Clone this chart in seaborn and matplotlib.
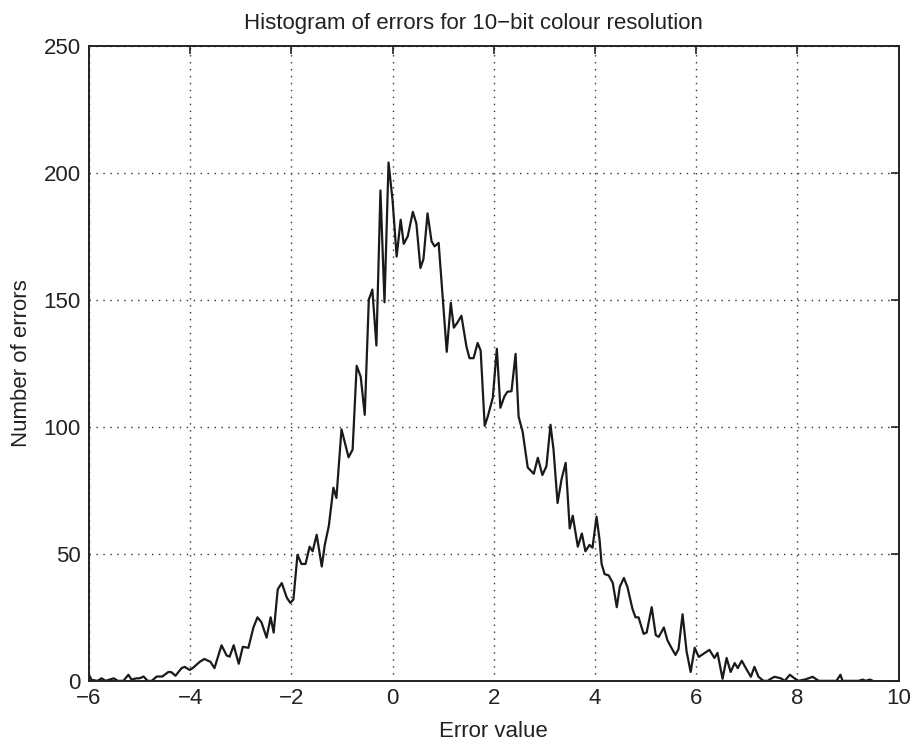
import matplotlib
matplotlib.use("Agg")
import matplotlib.pyplot as plt
import seaborn as sns
import pandas as pd

error_value = [
    -6.00, -5.95, -5.83, -5.75, -5.67, -5.51, -5.43, -5.32, -5.22, -5.16,
    -5.06, -5.00, -4.92, -4.84, -4.76, -4.66, -4.55, -4.43, -4.37, -4.29,
    -4.17, -4.11, -4.01, -3.95, -3.81, -3.72, -3.60, -3.52, -3.38, -3.28,
    -3.22, -3.14, -3.04, -2.96, -2.85, -2.75, -2.67, -2.59, -2.49, -2.41,
    -2.35, -2.27, -2.19, -2.09, -2.02, -1.96, -1.88, -1.80, -1.72, -1.64,
    -1.58, -1.50, -1.40, -1.34, -1.26, -1.17, -1.11, -1.01, -0.87, -0.79,
    -0.71, -0.63, -0.55, -0.47, -0.40, -0.32, -0.24, -0.16, -0.08, 0.00,
    0.08, 0.16, 0.22, 0.30, 0.40, 0.47, 0.55, 0.61, 0.69, 0.77,
    0.83, 0.91, 0.99, 1.07, 1.15, 1.21, 1.28, 1.36, 1.46, 1.52,
    1.60, 1.68, 1.74, 1.82, 1.88, 1.98, 2.06, 2.13, 2.21, 2.27,
    2.35, 2.43, 2.49, 2.57, 2.67, 2.79, 2.87, 2.96, 3.04, 3.12,
    3.18, 3.26, 3.34, 3.42, 3.50, 3.56, 3.66, 3.74, 3.81, 3.89,
    3.95, 4.03, 4.09, 4.13, 4.19, 4.27, 4.35, 4.43, 4.49, 4.57,
    4.64, 4.74, 4.80, 4.86, 4.96, 5.02, 5.12, 5.20, 5.26, 5.36,
    5.43, 5.51, 5.59, 5.65, 5.73, 5.81, 5.89, 5.97, 6.05, 6.17,
    6.26, 6.36, 6.42, 6.52, 6.60, 6.68, 6.76, 6.82, 6.90, 7.00,
    7.08, 7.15, 7.23, 7.33, 7.41, 7.49, 7.55, 7.67, 7.75, 7.85,
    7.94, 8.02, 8.14, 8.22, 8.30, 8.42, 8.50, 8.58, 8.70, 8.77,
    8.85, 8.89, 9.03, 9.13, 9.21, 9.29, 9.35, 9.43, 9.49,
]

error_count = [
    2.4, 0.4, 0, 1, 0, 1, 0, 0, 2.4, 0.5,
    1, 1, 1.7, 0, 0, 1.7, 1.7, 3.5, 3.4, 2,
    5, 5.5, 4.3, 5, 7.5, 8.6, 7.5, 5, 14, 10,
    9.5, 14, 6.7, 13.4, 13, 21, 25, 23, 17, 25,
    19, 36, 38.5, 32.7, 30.7, 32, 49.6, 46, 46, 52.8,
    51, 57.5, 45, 53.5, 61, 76, 72, 99, 88, 91,
    124, 119.7, 104.7, 150, 154, 132, 193, 149, 204, 189,
    167, 181.5, 172, 175, 184.6, 180, 162.5, 166, 184, 173,
    171, 172.4, 151, 129.5, 148.8, 139, 141, 143.7, 131.5, 127,
    127, 133, 130, 100.4, 104, 111.4, 130.7, 107.5, 112, 113.8,
    114, 128.7, 104, 98, 84, 81.5, 87.8, 81, 84.5, 100.8,
    91, 70, 79.5, 85.8, 60, 65, 52.8, 58, 51, 53.5,
    52.4, 64.6, 55.5, 46, 42, 41.5, 38.6, 29, 37, 40.5,
    37, 28.3, 25, 25, 18.5, 19, 29, 18, 17.3, 21,
    16, 13, 10.2, 12.5, 26.2, 11.5, 3.5, 13, 9.4, 11,
    12.2, 9, 11, 0.8, 9, 3.5, 7, 5, 7.9, 4.3,
    1.6, 5.5, 1.6, 0, 0, 1, 1.6, 1, 0, 2.4,
    1, 0, 0.5, 1, 1.6, 0, 0, 0, 0, 0,
    2.4, 0, 0, 0, 0, 0.5, 0, 0.5, 0,
]

x_ticks = [-6, -4, -2, 0, 2, 4, 6, 8, 10]
y_ticks = [0, 50, 100, 150, 200, 250]

title_text = "Histogram of errors for 10\u2212bit colour resolution"
x_label = "Error value"
y_label = "Number of errors"

sns.set_style("white")
plt.rcParams["font.family"] = ["Liberation Sans", "DejaVu Sans"]

df = pd.DataFrame({"x": error_value, "y": error_count})

fig = plt.figure(figsize=(9.17, 7.49), dpi=100)
ax = fig.add_axes([0.097, 0.091, 0.883, 0.848])

sns.lineplot(data=df, x="x", y="y", ax=ax, color="#1a1a1a", linewidth=1.6,
             sort=False, estimator=None)

ax.set_xlim(-6, 10)
ax.set_ylim(0, 250)
ax.set_xticks(x_ticks)
ax.set_yticks(y_ticks)
ax.set_xticklabels([str(t).replace("-", "\u2212") for t in x_ticks])
ax.set_yticklabels([str(t) for t in y_ticks])
ax.grid(True, color="#333333", linestyle=(0, (1, 4)), linewidth=1.0)
ax.tick_params(direction="in", length=6, width=1.2, top=True, right=True,
               labelsize=16, colors="#222222")
ax.tick_params(axis="x", pad=5)
ax.tick_params(axis="y", pad=6)
for s in ax.spines.values():
    s.set_color("#222222")
    s.set_linewidth(1.4)

ax.set_title(title_text, fontsize=16, color="#222222", pad=12, x=0.475)
ax.set_xlabel(x_label, fontsize=16, color="#222222", labelpad=9)
ax.set_ylabel(y_label, fontsize=16, color="#222222", labelpad=8)

fig.savefig("out.png", dpi=100)
